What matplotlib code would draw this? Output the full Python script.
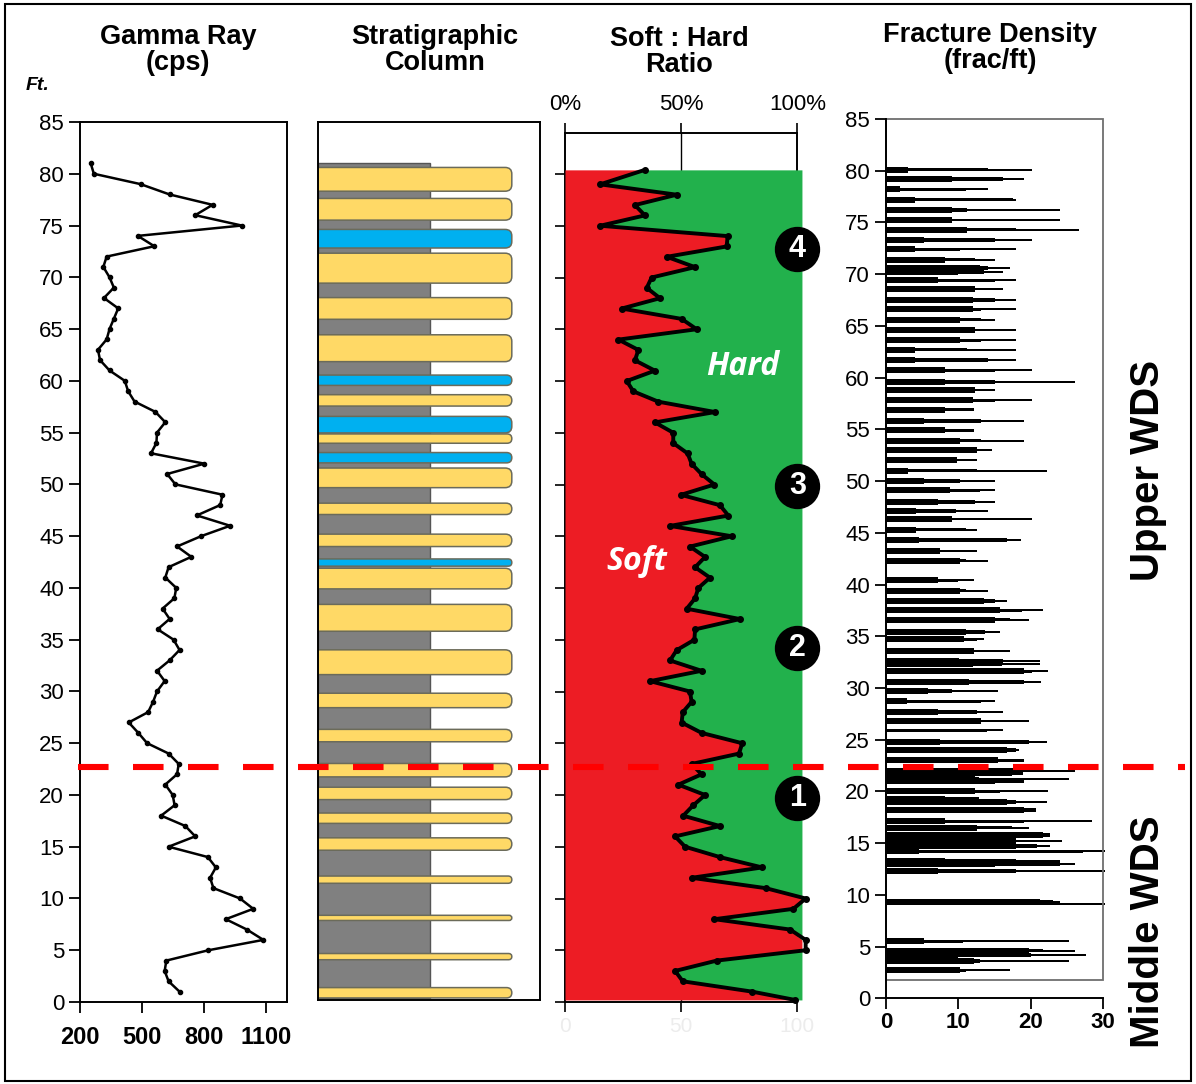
import numpy as np
import matplotlib.pyplot as plt
from matplotlib.patches import FancyBboxPatch, Rectangle
from matplotlib.lines import Line2D

plt.rcParams['font.family'] = ['Liberation Sans', 'DejaVu Sans']

# ---- data ----
gr_depth = np.arange(81, 0, -1)
gr_cps = [252, 267, 493, 634, 842, 758, 983, 480, 560, 329,
          313, 343, 364, 316, 385, 364, 343, 329, 287, 297,
          343, 417, 433, 464, 565, 613, 573, 570, 544, 802,
          622, 662, 890, 879, 766, 927, 787, 670, 739, 629,
          613, 666, 657, 600, 634, 576, 653, 682, 634, 573,
          610, 573, 554, 530, 436, 482, 525, 629, 678, 670,
          613, 649, 658, 593, 710, 758, 629, 819, 858, 830,
          846, 975, 1039, 906, 1008, 1088, 822, 618, 610, 629,
          682]

shale_top, shale_base = 81.0, 0.2
bed_top = [80.6, 77.6, 74.6, 72.3, 68.0, 64.4, 60.5, 58.6, 56.5, 54.8, 53.0, 51.5, 48.1, 45.1,
           42.7, 41.8, 38.3, 33.9, 29.7, 26.2, 22.9, 20.6, 18.1, 15.7, 12.0, 8.2, 4.5, 1.2]
bed_base = [78.3, 75.5, 72.8, 69.4, 65.9, 61.8, 59.5, 57.5, 54.9, 53.9, 52.0, 49.6, 47.0, 43.9,
            42.0, 39.8, 35.7, 31.5, 28.3, 25.0, 21.6, 19.4, 17.1, 14.5, 11.3, 7.7, 3.9, 0.2]
bed_type = ['Y', 'Y', 'B', 'Y', 'Y', 'Y', 'B', 'Y', 'B', 'Y', 'B', 'Y', 'Y', 'Y',
            'B', 'Y', 'Y', 'Y', 'Y', 'Y', 'Y', 'Y', 'Y', 'Y', 'Y', 'Y', 'Y', 'Y']

ratio_depth = np.r_[80.4, np.arange(79, 0, -1), 0.2]
ratio_soft = [34.4, 15.1, 48.1, 30.1, 34.4, 15.1, 70.0, 69.6, 43.8, 56.0,
              37.3, 35.2, 40.9, 24.4, 50.2, 56.7, 23.0, 31.6, 30.1, 38.7,
              26.6, 29.4, 40.2, 64.6, 38.7, 46.6, 46.6, 52.8, 54.5, 58.8,
              64.3, 49.9, 66.7, 70.3, 45.2, 71.8, 53.8, 60.3, 56.0, 62.4,
              57.4, 56.0, 52.4, 75.3, 56.0, 55.7, 48.1, 45.2, 58.8, 36.6,
              53.8, 54.5, 50.7, 50.2, 58.8, 76.3, 74.9, 54.5, 58.8, 48.8,
              60.3, 55.2, 50.9, 66.7, 47.4, 51.7, 66.7, 84.9, 54.5, 86.4,
              103.6, 98.3, 64.3, 96.9, 103.6, 103.6, 65.3, 47.4, 50.7, 80.6,
              99.0]

zone_labels = ['1', '2', '3', '4']
zone_depth = [19.7, 34.2, 49.9, 72.75]

# fracture density: depth, inner (thick) value, middle value, outer (thin) value
frac_depth = [80.1, 79.2, 78.2, 77.2, 76.2, 75.2, 74.3, 73.3, 72.4, 71.4, 70.6, 70.2, 69.4, 68.6,
              67.5, 66.6, 65.6, 64.6, 63.6, 62.7, 61.7, 60.7, 59.6, 58.8, 57.8, 56.9, 55.8, 54.9,
              53.9, 53.0, 52.0, 51.0, 50.0, 49.1, 48.0, 47.1, 46.3, 45.3, 44.3, 43.2, 42.3, 40.4,
              39.4, 38.4, 37.5, 36.6, 35.4, 34.7, 33.6, 32.6, 32.3, 31.6, 30.6, 29.7, 28.7, 27.7,
              26.8, 25.9, 24.8, 24.0, 23.0, 22.0, 21.7, 21.2, 21.0, 20.0, 19.3, 19.0, 18.2, 17.1,
              16.5, 15.8, 15.2, 14.7, 14.2, 13.3, 13.0, 12.3, 9.3, 9.1, 5.5, 4.6, 4.2, 3.6, 2.7]
frac_core = [3.1, 9.1, 2.0, 4.0, 9.1, 9.1, 11.2, 5.2, 4.0, 8.1, 13.0, 10.0, 7.2, 12.3,
             12.0, 12.0, 10.2, 12.3, 10.2, 4.0, 4.0, 8.1, 8.1, 12.3, 12.0, 8.1, 5.2, 8.1,
             10.2, 12.5, 9.8, 3.1, 5.2, 8.8, 7.2, 4.1, 9.1, 4.1, 4.6, 7.5, 10.2, 7.2,
             10.2, 13.5, 15.8, 15.1, 11.0, 10.7, 12.2, 10.1, 12.0, 19.1, 11.5, 5.8, 2.9, 7.2,
             13.1, 0.0, 7.5, 16.7, 15.5, 18.9, 12.0, 12.3, 15.0, 12.3, 8.1, 16.7, 19.0, 8.1,
             12.5, 21.7, 18.0, 18.0, 4.6, 8.1, 15.0, 7.2, 21.2, 0.0, 5.2, 19.7, 10.0, 12.1, 10.2]
frac_mid = [14.1, 16.1, 11.1, 17.5, 11.2, 9.1, 18.0, 15.1, 10.2, 12.3, 14.1, 13.5, 15.0, 12.3,
            15.1, 13.1, 13.1, 12.3, 13.1, 11.2, 14.1, 15.1, 15.1, 12.3, 15.1, 12.2, 13.1, 12.2,
            13.1, 12.5, 9.8, 12.5, 10.2, 13.0, 12.3, 9.7, 9.1, 11.1, 16.7, 7.5, 11.1, 10.0,
            11.1, 15.1, 18.8, 17.1, 13.7, 12.5, 12.2, 16.1, 16.0, 20.1, 19.1, 9.1, 13.1, 12.5,
            13.1, 14.0, 19.7, 18.0, 19.1, 18.9, 17.4, 12.8, 19.1, 15.7, 12.8, 18.0, 20.7, 19.1,
            17.4, 22.7, 18.0, 20.8, 27.2, 18.0, 24.0, 18.0, 23.0, 0.0, 10.6, 21.7, 20.0, 13.0, 11.1]
frac_tip = [20.1, 19.1, 14.1, 18.0, 24.0, 24.0, 26.7, 20.1, 18.0, 15.1, 17.1, 16.1, 18.0, 16.1,
            18.0, 18.0, 15.1, 18.0, 18.0, 18.0, 18.0, 20.1, 26.1, 15.1, 20.1, 12.2, 19.1, 12.2,
            19.1, 14.7, 12.5, 22.2, 15.1, 15.1, 15.1, 14.1, 20.1, 12.5, 18.6, 12.5, 14.1, 12.2,
            14.1, 16.7, 21.7, 19.8, 15.7, 13.5, 17.1, 21.2, 21.2, 22.4, 21.4, 15.5, 15.1, 16.1,
            19.8, 16.1, 22.2, 18.4, 19.1, 26.1, 18.9, 25.2, 19.1, 22.4, 12.8, 22.2, 20.7, 28.5,
            19.7, 22.7, 24.3, 22.7, 30.3, 24.0, 26.1, 30.3, 24.0, 30.3, 25.2, 26.1, 27.6, 25.2, 17.1]

boundary_depth = 22.7

# ---- figure ----
W, H = 1196, 1084
fig = plt.figure(figsize=(W / 100, H / 100), dpi=100)


def add_ax(left, top, right, bottom):
    return fig.add_axes([left / W, 1 - bottom / H, (right - left) / W, (bottom - top) / H])


def title(x, y, s):
    fig.text(x / W, 1 - y / H, s, ha='center', va='center', fontsize=19.5,
             fontweight='bold', linespacing=1.05)


# gamma ray
ax1 = add_ax(80, 122, 286.5, 1002)
ax1.plot(gr_cps, gr_depth, color='black', lw=1.8, marker='o', ms=3)
ax1.set_xlim(200, 1200)
ax1.set_ylim(0, 85)
ax1.set_xticks([200, 500, 800, 1100])
ax1.set_yticks(range(0, 86, 5))
ax1.tick_params(axis='y', labelsize=16, length=8, width=1.3)
ax1.tick_params(axis='x', labelsize=17, length=8, width=1.3, pad=9)
for t in ax1.get_xticklabels():
    t.set_fontweight('bold')
for s in ax1.spines.values():
    s.set_linewidth(1.4)
title(178, 50, 'Gamma Ray\n(cps)')
fig.text(38 / W, 1 - 85 / H, 'Ft.', ha='center', va='center', fontsize=14,
         fontweight='bold', style='italic')

# stratigraphic column
ax2 = add_ax(318, 122, 540, 1000)
ax2.set_xlim(0, 1)
ax2.set_ylim(0, 85)
ax2.set_xticks([])
ax2.set_yticks([])
for s in ax2.spines.values():
    s.set_linewidth(1.4)
ax2.add_patch(Rectangle((0, shale_base), 0.505, shale_top - shale_base,
                        fc='#808080', ec='#555555', lw=1))
bed_colors = {'Y': '#FFD966', 'B': '#00B0F0'}
asp = 21.0
for top, base, kind in zip(bed_top, bed_base, bed_type):
    h = top - base
    r = min(0.03, h / asp / 2)
    ax2.add_patch(FancyBboxPatch((-0.05, base), 0.923, h,
                                 boxstyle=f'round,pad=0,rounding_size={r}',
                                 mutation_aspect=asp, fc=bed_colors[kind],
                                 ec='#6b6b5a', lw=1.1))
title(435, 50, 'Stratigraphic\nColumn')

# soft : hard ratio
ax3 = add_ax(565, 132.6, 797.3, 1002)
ax3.set_xlim(0, 100)
ax3.set_ylim(0, 84)
soft = np.minimum(ratio_soft, 102)
ax3.axvline(50, color='black', lw=1, zorder=0)
ax3.fill_betweenx(ratio_depth, 0, soft, color='#ED1C24', lw=0, zorder=3, clip_on=False)
ax3.fill_betweenx(ratio_depth, soft, 102, color='#22B14C', lw=0, zorder=3, clip_on=False)
ax3.plot(ratio_soft, ratio_depth, color='black', lw=2.8, marker='o', ms=4,
         zorder=4, clip_on=False, solid_joinstyle='round')
ax3.xaxis.tick_top()
ax3.set_xticks([0, 50, 100])
ax3.set_xticklabels(['0%', '50%', '100%'])
ax3.tick_params(axis='x', labelsize=16, length=7, width=1.2, pad=6)
ax3.set_yticks(range(0, 81, 5))
ax3.set_yticklabels([])
ax3.tick_params(axis='y', length=7, width=1.2)
for s in ax3.spines.values():
    s.set_linewidth(1.4)
ax3.spines['bottom'].set_visible(False)
sec = ax3.secondary_xaxis('bottom')
sec.set_xticks([0, 50, 100])
sec.set_xticklabels(['0', '50', '100'])
sec.tick_params(labelsize=15, labelcolor='#ececec', length=7, width=1.2)
sec.spines['bottom'].set_linewidth(1.4)
ax3.scatter([100] * len(zone_depth), zone_depth, s=1000, color='black', zorder=6, clip_on=False)
for lab, d in zip(zone_labels, zone_depth):
    ax3.text(100, d, lab, color='white', fontsize=22, fontweight='bold',
             ha='center', va='center', zorder=7)
ax3.text(76.6, 61.4, 'Hard', color='white', fontsize=23, fontweight='bold',
         style='italic', ha='center', va='center', zorder=5, family='Open Sans')
ax3.text(31.0, 42.6, 'Soft', color='white', fontsize=23, fontweight='bold',
         style='italic', ha='center', va='center', zorder=5, family='Open Sans')
title(679, 52, 'Soft : Hard\nRatio')

# fracture density
ax4 = add_ax(886, 119, 1103.3, 998.3)
ax4.set_xlim(0, 30)
ax4.set_ylim(0, 85)
ax4.barh(frac_depth, frac_tip, height=0.18, color='black', clip_on=False)
ax4.barh(frac_depth, frac_mid, height=0.34, color='black', clip_on=False)
ax4.barh(frac_depth, frac_core, height=0.58, color='black', clip_on=False)
ax4.add_patch(Rectangle((0, 1.8), 30, 83.2, fill=False, ec='#6e6e6e', lw=1.3, clip_on=False))
ax4.spines['top'].set_visible(False)
ax4.spines['right'].set_visible(False)
for s in ax4.spines.values():
    s.set_linewidth(1.4)
ax4.set_xticks([0, 10, 20, 30])
ax4.set_yticks(range(0, 86, 5))
ax4.tick_params(axis='y', labelsize=16, length=8, width=1.3)
ax4.tick_params(axis='x', labelsize=16, length=8, width=1.3, pad=2)
for t in ax4.get_xticklabels():
    t.set_fontweight('bold')
title(990, 48, 'Fracture Density\n(frac/ft)')

# zone names
fig.text(1148 / W, 1 - 470 / H, 'Upper WDS', rotation=90, ha='center', va='center',
         fontsize=29, fontweight='bold')
fig.text(1148 / W, 1 - 932 / H, 'Middle WDS', rotation=90, ha='center', va='center',
         fontsize=29, fontweight='bold')

# upper / middle boundary
yb = fig.transFigure.inverted().transform(ax1.transData.transform((200, boundary_depth)))[1]
fig.add_artist(Line2D([78 / W, 1185 / W], [yb, yb], color='#FF0000', lw=4.4,
                      dashes=(5, 4), zorder=10))

fig.add_artist(Rectangle((0.004, 0.003), 0.992, 0.993, transform=fig.transFigure,
                         fill=False, ec='black', lw=1.5))

fig.savefig('out.png', dpi=100)
